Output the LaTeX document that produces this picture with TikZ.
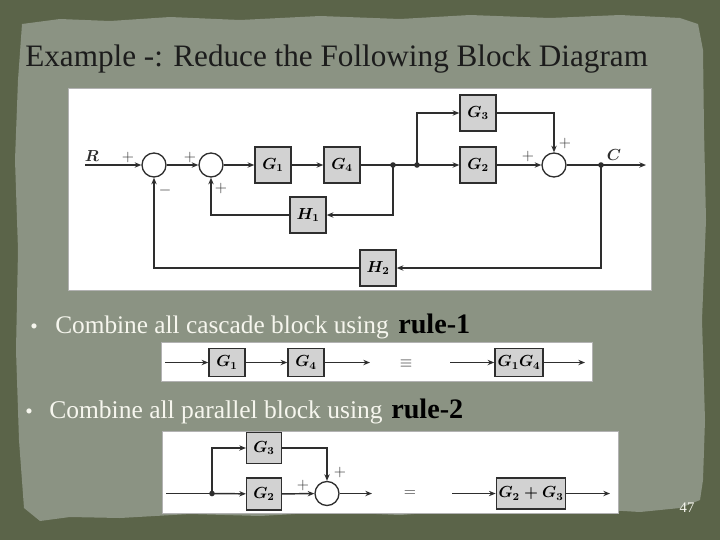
\documentclass[tikz,border=0pt]{standalone}
\usepackage{fontspec}
\newfontfamily\slidefont{Liberation Serif}
\usetikzlibrary{arrows.meta}
\definecolor{framec}{HTML}{5B6449}
\definecolor{paperc}{HTML}{8B9383}
\definecolor{linec}{HTML}{2E2E2E}
\definecolor{boxc}{HTML}{D2D2D2}
\definecolor{textc}{HTML}{F6F6EE}
\definecolor{titlec}{HTML}{1C1C1C}
\tikzset{
  blk/.style={draw=linec, fill=boxc, line width=1.1pt, inner sep=0pt,
    minimum width=27pt, minimum height=27pt, font=\fontsize{12}{13}\selectfont\boldmath},
  sumc/.style={draw=linec, fill=white, circle, line width=1pt, inner sep=0pt, minimum size=18pt},
  jdot/.style={fill=linec, circle, inner sep=0pt, minimum size=4.2pt},
  arr/.style={draw=linec, line width=1.1pt, -{Stealth[length=5pt,width=4pt]}},
  wire/.style={draw=linec, line width=1.1pt},
  sgn/.style={text=linec, font=\fontsize{12}{12}\selectfont},
  lbl/.style={text=linec, font=\fontsize{12}{12}\selectfont\boldmath},
  panel/.style={fill=white, draw=gray!60, line width=0.4pt}
}
\begin{document}
\begin{tikzpicture}[x=0.75pt, y=-0.75pt]
\useasboundingbox (0,0) rectangle (720,540);
% background
\fill[framec] (0,0) rectangle (720,540);
\fill[paperc] (22,24) -- (60,19) -- (110,21) -- (170,17) -- (240,20) -- (320,16) -- (400,19)
  -- (470,15) -- (550,18) -- (620,15) -- (680,18) -- (698,24) -- (703,50) -- (704,130)
  -- (706,220) -- (702,320) -- (705,420) -- (703,480) -- (700,500) -- (680,508) -- (640,512)
  -- (590,509) -- (530,513) -- (470,510) -- (400,515) -- (330,512) -- (260,516) -- (190,514)
  -- (120,518) -- (70,517) -- (40,521) -- (24,508) -- (19,440) -- (16,350) -- (18,250)
  -- (15,160) -- (18,80) -- cycle;
% title
\node[anchor=base west, inner sep=0pt] (title) at (25,66)
  {\resizebox{467pt}{!}{\slidefont\color{titlec}Example -: Reduce the Following Block Diagram}};
% main diagram panel
\fill[panel] (68,88) rectangle (651,290);
\node[sumc] (s1) at (154,165) {};
\node[sumc] (s2) at (211,165) {};
\node[blk] (g1) at (273,165) {$G_1$};
\node[blk] (g4) at (342,165) {$G_4$};
\node[blk] (h1) at (308,215) {$H_1$};
\node[blk] (g3) at (478,113) {$G_3$};
\node[blk] (g2) at (478,165) {$G_2$};
\node[sumc] (s3) at (554,165) {};
\node[blk] (h2) at (378,268) {$H_2$};
\node[jdot] (d1) at (393,165) {};
\node[jdot] (d2) at (417,165) {};
\node[jdot] (d3) at (601,165) {};
\coordinate (rin) at (85,165);
\coordinate (cout) at (646,165);
\node[lbl] (rl) at (92,156) {$R$};
\node[lbl] (cl) at (614,155) {$C$};
\draw[arr] (rin) -- (s1);
\draw[arr] (s1) -- (s2);
\draw[arr] (s2) -- (g1);
\draw[arr] (g1) -- (g4);
\draw[arr] (g4) -- (g2);
\draw[arr] (d2.center) |- (g3);
\draw[arr] (g3) -| (s3);
\draw[arr] (g2) -- (s3);
\draw[arr] (s3) -- (cout);
\draw[arr] (d1.center) |- (h1);
\draw[arr] (h1) -| (s2);
\draw[arr] (d3.center) |- (h2);
\draw[arr] (h2) -| (s1);
\node[sgn] (p1) at (128,157) {$+$};
\node[sgn] (m1) at (165,190) {$-$};
\node[sgn] (p2) at (190,157) {$+$};
\node[sgn] (p3) at (221,188) {$+$};
\node[sgn] (p4) at (528,156) {$+$};
\node[sgn] (p5) at (565,143) {$+$};
% bullet 1
\node[anchor=base, inner sep=0pt, text=textc] (b1) at (34,333) {\slidefont\fontsize{16}{16}\selectfont\textbullet};
\node[anchor=base west, inner sep=0pt] (t1) at (55,333)
  {\resizebox{250pt}{!}{\slidefont\color{textc}Combine all cascade block using}};
\node[anchor=base west, inner sep=0pt] (r1) at (398,333)
  {\resizebox{54pt}{!}{\slidefont\bfseries\color{black}rule-1}};
% rule 1 panel
\fill[panel] (161,342) rectangle (592,381);
\node[blk, minimum width=27pt, minimum height=21pt] (ag1) at (227,362.5) {$G_1$};
\node[blk, minimum width=27pt, minimum height=21pt] (ag4) at (306,362.5) {$G_4$};
\node[blk, minimum width=36pt, minimum height=21pt] (ag14) at (519,362.5) {$G_1G_4$};
\coordinate (ain) at (165,362.5);
\coordinate (aout) at (370,362.5);
\coordinate (bin) at (450,362.5);
\coordinate (bout) at (585,362.5);
\node[sgn] (eq1) at (406,364) {$\equiv$};
\draw[arr] (ain) -- (ag1);
\draw[arr] (ag1) -- (ag4);
\draw[arr] (ag4) -- (aout);
\draw[arr] (bin) -- (ag14);
\draw[arr] (ag14) -- (bout);
% bullet 2
\node[anchor=base, inner sep=0pt, text=textc] (b2) at (29,418) {\slidefont\fontsize{16}{16}\selectfont\textbullet};
\node[anchor=base west, inner sep=0pt] (t2) at (49,418)
  {\resizebox{250pt}{!}{\slidefont\color{textc}Combine all parallel block using}};
\node[anchor=base west, inner sep=0pt] (r2) at (391,418)
  {\resizebox{54pt}{!}{\slidefont\bfseries\color{black}rule-2}};
% rule 2 panel
\fill[panel] (162,431) rectangle (618,513);
\node[jdot] (cd) at (212,493.5) {};
\node[blk, minimum width=26pt, minimum height=24pt] (cg2) at (264,494) {$G_2$};
\node[blk, minimum width=26pt, minimum height=23pt] (cg3) at (264,448) {$G_3$};
\node[sumc] (cs) at (327,493.5) {};
\node[blk, minimum width=52pt, minimum height=23pt] (cg23) at (531,493.5) {$G_2+G_3$};
\coordinate (cin) at (166,493.5);
\coordinate (cout2) at (372,493.5);
\coordinate (din) at (452,493.5);
\coordinate (dout) at (610,493.5);
\draw[wire] (cin) -- (cd.center);
\draw[arr] (cd.center) -- (cg2);
\draw[arr] (cd.center) |- (cg3);
\draw[arr] (cg3) -| (cs);
\draw[arr] (cg2) -- (cs);
\draw[arr] (cs) -- (cout2);
\draw[arr] (din) -- (cg23);
\draw[arr] (cg23) -- (dout);
\node[sgn] (cp1) at (340,472) {$+$};
\node[sgn] (cp2) at (303,485) {$+$};
\node[sgn] (eq2) at (410,494) {$=$};
% page number
\node[text=textc, font=\slidefont\fontsize{11}{11}\selectfont] (pg) at (687,508) {47};
\end{tikzpicture}
\end{document}
